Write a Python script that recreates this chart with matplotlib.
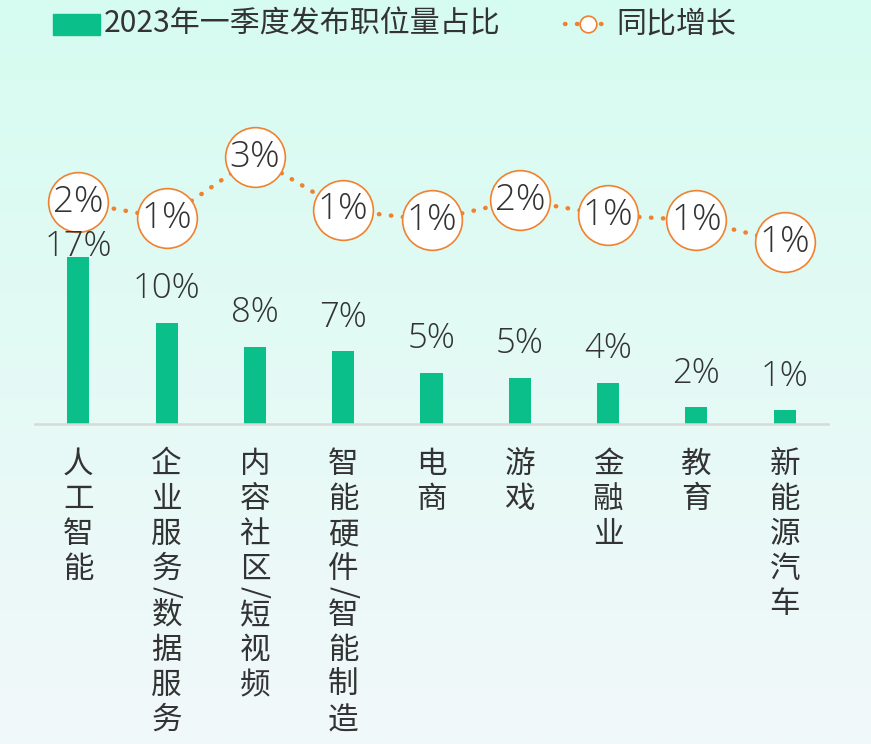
import numpy as np
import matplotlib.pyplot as plt
from matplotlib.patches import Rectangle
from matplotlib.lines import Line2D

plt.rcParams['font.family'] = ['Noto Sans CJK SC', 'DejaVu Sans']
NUM_FONT = ['Open Sans', 'Noto Sans CJK SC', 'DejaVu Sans']

# data
categories = ['人工智能', '企业服务/数据服务', '内容社区/短视频', '智能硬件/智能制造',
              '电商', '游戏', '金融业', '教育', '新能源汽车']
share = [17.0, 10.3, 7.9, 7.4, 5.2, 4.7, 4.2, 1.7, 1.4]
growth = [1.95, 1.58, 3.0, 1.77, 1.53, 2.0, 1.65, 1.53, 1.02]
growth_labels = ['2%', '1%', '3%', '1%', '1%', '2%', '1%', '1%', '1%']

BAR_COLOR = '#0BBF8A'
LINE_COLOR = '#F0812E'
TEXT_COLOR = '#333333'
W, H = 871, 744

fig = plt.figure(figsize=(W / 100, H / 100), dpi=100)

# gradient background
bg = fig.add_axes([0, 0, 1, 1], zorder=-10)
top = np.array([214, 252, 240]) / 255
bottom = np.array([242, 248, 250]) / 255
t = np.linspace(0, 1, 256)[:, None]
grad = top[None, :] * (1 - t) + bottom[None, :] * t
bg.imshow(grad[:, None, :], aspect='auto', extent=[0, 1, 0, 1])
bg.axis('off')

ax = fig.add_axes([35 / W, 1 - 424 / H, (828 - 35) / W, (424 - 60) / H])
ax.set_facecolor('none')
x = np.arange(len(categories))
ax.bar(x, share, width=0.25, color=BAR_COLOR, zorder=2)
ax.set_xlim(-0.49, len(categories) - 0.51)
ax.set_ylim(0, 364 / 9.8)
for s in ['top', 'right', 'left']:
    ax.spines[s].set_visible(False)
ax.spines['bottom'].set_color('#d9d9d9')
ax.spines['bottom'].set_linewidth(1.8)
ax.set_yticks([])
ax.set_xticks([])

# vertical category labels, one character per line
for i, name in enumerate(categories):
    cursor = 23
    for ch in name:
        h = 11 if ch == '/' else 35
        yc = cursor + h / 2
        ax.annotate(ch, xy=(i, 0), xycoords=('data', 'axes fraction'),
                    xytext=(0, -yc * 0.72), textcoords='offset points',
                    ha='center', va='center', fontsize=22, color=TEXT_COLOR,
                    rotation=-90 if ch == '/' else 0, fontweight='light')
        cursor += h

# growth line on secondary axis
ax2 = ax.twinx()
ax2.set_facecolor('none')
ax2.set_ylim(-3.21, 5.26)
ax2.axis('off')
ax2.plot(x, growth, color=LINE_COLOR, lw=3.2, linestyle=(0, (0.1, 2.6)),
         dash_capstyle='round', zorder=3)
ax2.plot(x, growth, linestyle='none', marker='o', markersize=43,
         markerfacecolor='white', markeredgecolor=LINE_COLOR, markeredgewidth=1.2,
         zorder=4)
for i, (v, lab) in enumerate(zip(growth, growth_labels)):
    ax2.text(i, v, lab, ha='center', va='center', fontsize=26.5, color=TEXT_COLOR,
             family=NUM_FONT, fontweight='light', zorder=5)

# bar value labels (drawn on top so the first one sits over the circle edge)
for i, v in enumerate(share):
    pad = -5 if i == 0 else 12
    ax2.annotate(f'{round(v)}%', xy=(i, v), xycoords=ax.transData,
                 xytext=(0, pad), textcoords='offset points',
                 ha='center', va='bottom', fontsize=25, color=TEXT_COLOR,
                 family=NUM_FONT, fontweight='light', zorder=6)

# legend drawn by hand at the top
fig.patches.append(Rectangle((53 / W, 1 - 35 / H), 47 / W, 21 / H,
                             transform=fig.transFigure, color=BAR_COLOR))
fig.text(104 / W, 1 - 24 / H, '2023年一季度发布职位量占比', ha='left', va='center',
         fontsize=21.6, color=TEXT_COLOR)
fig.lines.append(Line2D([565 / W, 610 / W], [1 - 24 / H, 1 - 24 / H],
                        transform=fig.transFigure, color=LINE_COLOR, lw=3.2,
                        linestyle=(0, (0.1, 2.6)), dash_capstyle='round'))
fig.lines.append(Line2D([588 / W], [1 - 24 / H], transform=fig.transFigure,
                        marker='o', markersize=12, markerfacecolor='white',
                        markeredgecolor=LINE_COLOR, markeredgewidth=1.2))
fig.text(616 / W, 1 - 24 / H, '同比增长', ha='left', va='center',
         fontsize=21.6, color=TEXT_COLOR)

fig.savefig('out.png', dpi=100)
